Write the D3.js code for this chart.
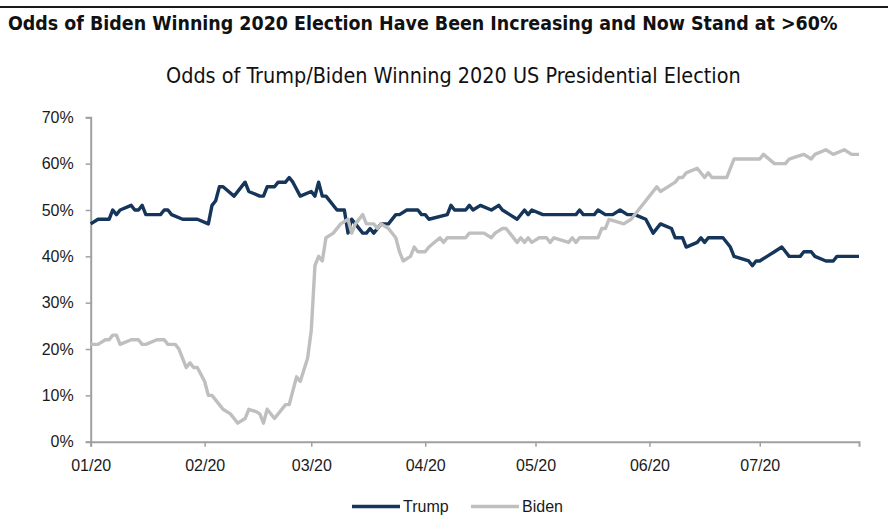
<!DOCTYPE html>
<html>
<head>
<meta charset="utf-8">
<script src="https://cdn.jsdelivr.net/npm/d3@7/dist/d3.min.js"></script>
<style>
  body { margin: 0; background: #fff; }
  svg { display: block; }
  text { font-family: "Liberation Sans", "DejaVu Sans", sans-serif; }
  .condensed { font-family: "Liberation Sans Narrow", "DejaVu Sans Condensed", "DejaVu Sans", sans-serif; font-stretch: condensed; }
</style>
</head>
<body>
<svg id="chart" width="888" height="516"></svg>
<script>
// Headline and chart title
const headline = "Odds of Biden Winning 2020 Election Have Been Increasing and Now Stand at >60%";
const chartTitle = "Odds of Trump/Biden Winning 2020 US Presidential Election";

// Series names and colours
const seriesNames = ["Trump", "Biden"];
const seriesColors = ["#15355a", "#bfbfbf"];

// Trump odds (%), [month-day of 2020, value]
const trump = [
  ["01-01", 47], ["01-03", 48], ["01-06", 48], ["01-07", 50], ["01-08", 49], ["01-09", 50],
  ["01-12", 51], ["01-13", 50], ["01-14", 50], ["01-15", 51], ["01-16", 49], ["01-20", 49],
  ["01-21", 50], ["01-22", 50], ["01-23", 49], ["01-26", 48], ["01-30", 48], ["02-02", 47],
  ["02-03", 51], ["02-04", 52], ["02-05", 55], ["02-06", 55], ["02-09", 53], ["02-12", 56],
  ["02-13", 54], ["02-16", 53], ["02-17", 53], ["02-18", 55], ["02-20", 55], ["02-21", 56],
  ["02-23", 56], ["02-24", 57], ["02-25", 56], ["02-27", 53], ["03-01", 54], ["03-02", 53],
  ["03-03", 56], ["03-04", 53], ["03-05", 53], ["03-08", 50], ["03-10", 50], ["03-11", 45],
  ["03-12", 48], ["03-13", 47], ["03-15", 45], ["03-16", 45], ["03-17", 46], ["03-18", 45],
  ["03-20", 47], ["03-22", 47], ["03-24", 49], ["03-25", 49], ["03-27", 50], ["03-30", 50],
  ["03-31", 49], ["04-01", 49], ["04-02", 48], ["04-07", 49], ["04-08", 51], ["04-09", 50],
  ["04-12", 50], ["04-13", 51], ["04-14", 50], ["04-16", 51], ["04-19", 50], ["04-21", 51],
  ["04-22", 50], ["04-24", 49], ["04-26", 48], ["04-28", 50], ["04-29", 49], ["04-30", 50],
  ["05-03", 49], ["05-12", 49], ["05-13", 50], ["05-14", 49], ["05-17", 49], ["05-18", 50],
  ["05-20", 49], ["05-22", 49], ["05-24", 50], ["05-26", 49], ["05-28", 49], ["05-31", 48],
  ["06-02", 45], ["06-04", 47], ["06-07", 46], ["06-08", 44], ["06-10", 44], ["06-11", 42],
  ["06-14", 43], ["06-15", 44], ["06-16", 43], ["06-17", 44], ["06-21", 44], ["06-23", 42],
  ["06-24", 40], ["06-28", 39], ["06-29", 38], ["06-30", 39], ["07-01", 39], ["07-03", 40],
  ["07-05", 41], ["07-07", 42], ["07-09", 40], ["07-12", 40], ["07-13", 41], ["07-15", 41],
  ["07-16", 40], ["07-19", 39], ["07-21", 39], ["07-22", 40], ["07-28", 40]
];

// Biden odds (%), [month-day of 2020, value]
const biden = [
  ["01-01", 21], ["01-03", 21], ["01-05", 22], ["01-06", 22], ["01-07", 23], ["01-08", 23],
  ["01-09", 21], ["01-12", 22], ["01-14", 22], ["01-15", 21], ["01-16", 21], ["01-19", 22],
  ["01-21", 22], ["01-22", 21], ["01-24", 21], ["01-25", 20], ["01-26", 18], ["01-27", 16],
  ["01-28", 17], ["01-29", 16], ["01-30", 16], ["02-01", 13], ["02-02", 10], ["02-03", 10],
  ["02-05", 8], ["02-06", 7], ["02-08", 6], ["02-09", 5], ["02-10", 4], ["02-12", 5],
  ["02-13", 7], ["02-15", 6.5], ["02-16", 6], ["02-17", 4], ["02-18", 7], ["02-20", 5],
  ["02-23", 8], ["02-24", 8], ["02-26", 14], ["02-27", 13], ["02-29", 18], ["03-01", 24],
  ["03-02", 38], ["03-03", 40], ["03-04", 39], ["03-05", 44], ["03-07", 45], ["03-09", 47],
  ["03-11", 48], ["03-12", 45], ["03-13", 47], ["03-15", 49], ["03-16", 47], ["03-18", 47],
  ["03-19", 46], ["03-20", 47], ["03-22", 46], ["03-24", 44], ["03-25", 41], ["03-26", 39],
  ["03-28", 40], ["03-29", 42], ["03-30", 41], ["04-01", 41], ["04-02", 42], ["04-05", 44],
  ["04-06", 43], ["04-07", 44], ["04-12", 44], ["04-13", 45], ["04-17", 45], ["04-19", 44],
  ["04-20", 45], ["04-22", 46], ["04-23", 46], ["04-24", 45], ["04-26", 43], ["04-27", 44],
  ["04-28", 43], ["04-29", 44], ["04-30", 43], ["05-02", 44], ["05-04", 44], ["05-05", 43],
  ["05-06", 44], ["05-10", 43], ["05-11", 44], ["05-12", 43], ["05-13", 44], ["05-18", 44],
  ["05-19", 46], ["05-20", 46], ["05-21", 48], ["05-25", 47], ["05-27", 48], ["05-29", 50],
  ["05-31", 52], ["06-01", 53], ["06-03", 55], ["06-04", 54], ["06-06", 55], ["06-08", 56],
  ["06-09", 57], ["06-10", 57], ["06-11", 58], ["06-14", 59], ["06-16", 57], ["06-17", 58],
  ["06-18", 57], ["06-22", 57], ["06-24", 61], ["07-01", 61], ["07-02", 62], ["07-05", 60],
  ["07-08", 60], ["07-09", 61], ["07-11", 61.5], ["07-13", 62], ["07-15", 61], ["07-16", 62],
  ["07-19", 63], ["07-21", 62], ["07-24", 63], ["07-26", 62], ["07-28", 62]
];

// Axis ticks
const yTicks = [0, 10, 20, 30, 40, 50, 60, 70];
const monthTicks = ["01-01", "02-01", "03-01", "04-01", "05-01", "06-01", "07-01"];
const dateRange = ["01-01", "07-28"];

const parseDay = d3.timeParse("%Y-%m-%d");
const toDate = md => parseDay("2020-" + md);

const svg = d3.select("#chart");

// Shrink a text's font size until its natural width fits the given width
function fitText(sel, width, maxSize) {
  sel.attr("font-size", maxSize);
  const w = sel.node().getComputedTextLength();
  if (w > width) sel.attr("font-size", (maxSize * width / w).toFixed(2));
}

// Top rule and headline
svg.append("line")
  .attr("x1", 0).attr("x2", 888).attr("y1", 7).attr("y2", 7)
  .attr("stroke", "#1a1a1a").attr("stroke-width", 2);

svg.append("text")
  .attr("class", "condensed")
  .attr("x", 8).attr("y", 30)
  .attr("font-weight", "bold").attr("fill", "#111")
  .text(headline)
  .call(fitText, 830, 22);

svg.append("text")
  .attr("class", "condensed")
  .attr("x", 166).attr("y", 83)
  .attr("fill", "#111")
  .text(chartTitle)
  .call(fitText, 575, 22);

// Scales
const x = d3.scaleTime()
  .domain(dateRange.map(toDate))
  .range([90.7, 859]);

const y = d3.scaleLinear()
  .domain([0, 70])
  .range([441.7, 117.3]);

const axisColor = "#a0a0a0";

// Y axis
const yAxis = svg.append("g")
  .attr("transform", "translate(90.7,0)")
  .call(d3.axisLeft(y).tickValues(yTicks).tickSize(5).tickPadding(12)
    .tickFormat(d => d + "%"));

// X axis
const xAxis = svg.append("g")
  .attr("transform", "translate(0,441.7)")
  .call(d3.axisBottom(x).tickValues(monthTicks.map(toDate)).tickSize(5).tickPadding(13)
    .tickFormat(d3.timeFormat("%m/%y")));

[yAxis, xAxis].forEach(g => {
  g.select(".domain").attr("stroke", axisColor).attr("stroke-width", 2);
  g.selectAll(".tick line").attr("stroke", axisColor).attr("stroke-width", 1.5);
  g.selectAll(".tick text")
    .attr("fill", "#1a1a1a")
    .style("font-family", "'Liberation Sans', 'DejaVu Sans', sans-serif")
    .style("font-size", "16px");
});

// Lines
const line = d3.line()
  .x(d => x(toDate(d[0])))
  .y(d => y(d[1]));

[trump, biden].forEach((series, i) => {
  svg.append("path")
    .datum(series)
    .attr("fill", "none")
    .attr("stroke", seriesColors[i])
    .attr("stroke-width", 3.4)
    .attr("stroke-linejoin", "round")
    .attr("d", line);
});

// Legend
const legendX = [352, 471];
seriesNames.forEach((name, i) => {
  const g = svg.append("g").attr("transform", `translate(${legendX[i]},506.5)`);
  g.append("line")
    .attr("x1", 0).attr("x2", 48).attr("y1", 0).attr("y2", 0)
    .attr("stroke", seriesColors[i]).attr("stroke-width", 3.4);
  g.append("text")
    .attr("x", 51).attr("y", 0).attr("dy", "0.35em")
    .attr("fill", "#1a1a1a")
    .style("font-family", "'Liberation Sans', 'DejaVu Sans', sans-serif")
    .style("font-size", "16px")
    .text(name);
});
</script>
</body>
</html>
